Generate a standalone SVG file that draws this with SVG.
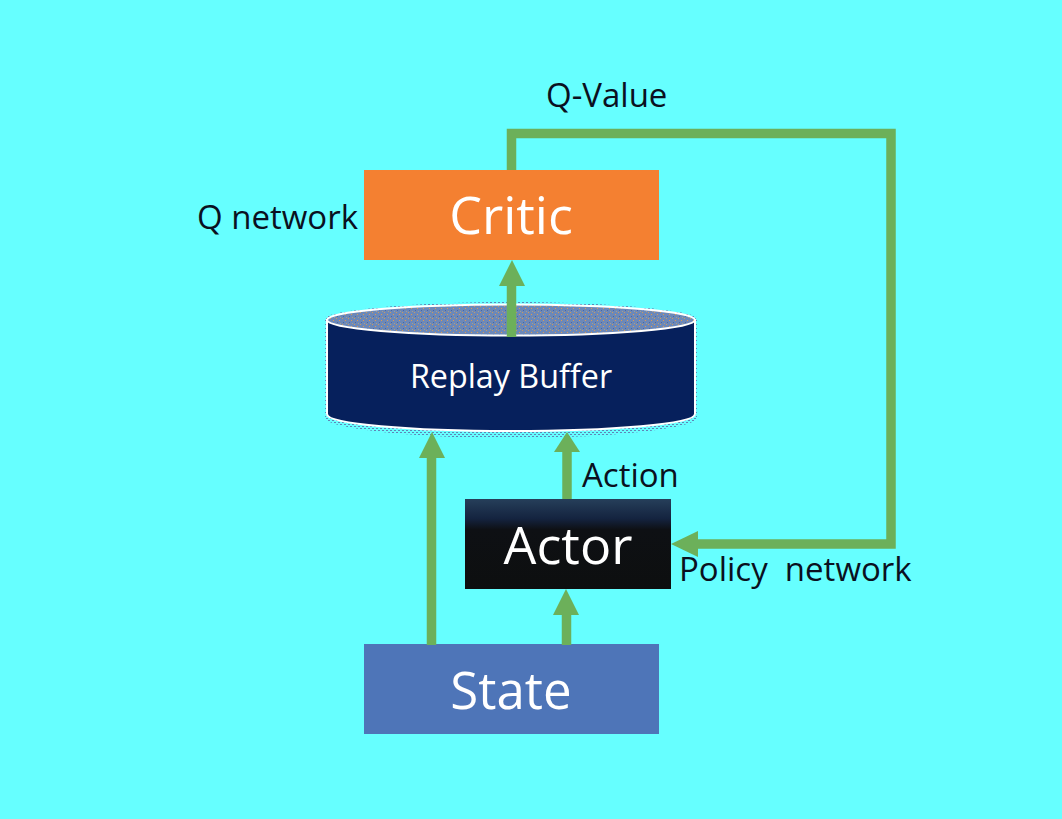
<svg xmlns="http://www.w3.org/2000/svg" width="1062" height="819" viewBox="0 0 1062 819">
<defs>
<linearGradient id="actorFill" x1="0" y1="0" x2="0" y2="1"><stop offset="0" stop-color="#263f5a"/><stop offset="0.22" stop-color="#14233f"/><stop offset="0.34" stop-color="#0e1014"/><stop offset="1" stop-color="#0d0f0f"/></linearGradient>
<pattern id="dither" width="6" height="6" patternUnits="userSpaceOnUse">
<rect width="6" height="6" fill="#6c88b8"/>
<rect x="0" y="0" width="1" height="1" fill="#d09a5a"/>
<rect x="3" y="2" width="1" height="1" fill="#e09a50"/>
<rect x="1" y="4" width="1" height="1" fill="#4a68a0"/>
<rect x="4" y="5" width="1" height="1" fill="#a8a088"/>
</pattern>
<pattern id="fuzz" width="4" height="4" patternUnits="userSpaceOnUse">
<rect width="4" height="4" fill="#66ffff"/>
<rect x="0" y="0" width="2" height="1" fill="#5f86b8"/>
<rect x="2" y="2" width="2" height="1" fill="#5f86b8"/>
</pattern>
</defs>
<style>
text{font-family:"Open Sans","Noto Sans","DejaVu Sans",sans-serif}
.lbl{font-size:33px;fill:#0a1020}
.big{font-size:52px;fill:#fff;text-anchor:middle}
.line{fill:none;stroke:#6cb05a;stroke-width:9.5}
.head{fill:#6cb05a}
</style>
<rect width="1062" height="819" fill="#66ffff"/>
<g id="critic"><rect x="364" y="170" width="295" height="90" fill="#f48031"/><text class="big" x="511" y="234">Critic</text></g>
<g id="buffer">
<path d="M325 318V418C325 427 400 438 511 438C622 438 697 427 697 418V318C697 312 622 302 511 302C400 302 325 312 325 318Z" fill="url(#fuzz)"/>
<path d="M327 320V414C327 424 410 431 511 431C612 431 695 424 695 414V320Z" fill="#06205c" stroke="#fff" stroke-width="2"/>
<ellipse cx="511" cy="320" rx="184" ry="15.500" fill="url(#dither)" stroke="#fff" stroke-width="2"/>
<text x="511" y="388" font-size="32.300" fill="#fff" text-anchor="middle">Replay Buffer</text>
</g>
<g id="actor"><rect x="465" y="499" width="206" height="90" fill="url(#actorFill)"/><text class="big" x="568" y="564">Actor</text></g>
<g id="state"><rect x="364" y="644" width="295" height="90" fill="#4e75b8"/><text class="big" x="511" y="709" style="font-size:51px">State</text></g>
<g id="connectors">
<path class="line" d="M511.500 170V133.500H891V544H696"/>
<path class="head" d="M671 544L698 531V557Z"/>
<path class="line" d="M511.500 337V284"/>
<path class="head" d="M512 260L525 286H499Z"/>
<path class="line" d="M431.500 645V456"/>
<path class="head" d="M432 432L445 458H419Z"/>
<path class="line" d="M567 499V450"/>
<path class="head" d="M567 432L580 452H554Z"/>
<path class="line" d="M566.500 645V613"/>
<path class="head" d="M566 589L579 615H553Z"/>
</g>
<g id="labels">
<text class="lbl" x="546" y="107">Q-Value</text>
<text class="lbl" x="197" y="229">Q network</text>
<text class="lbl" x="582" y="487">Action</text>
<text class="lbl" x="679" y="581" xml:space="preserve">Policy  network</text>
</g>
</svg>
